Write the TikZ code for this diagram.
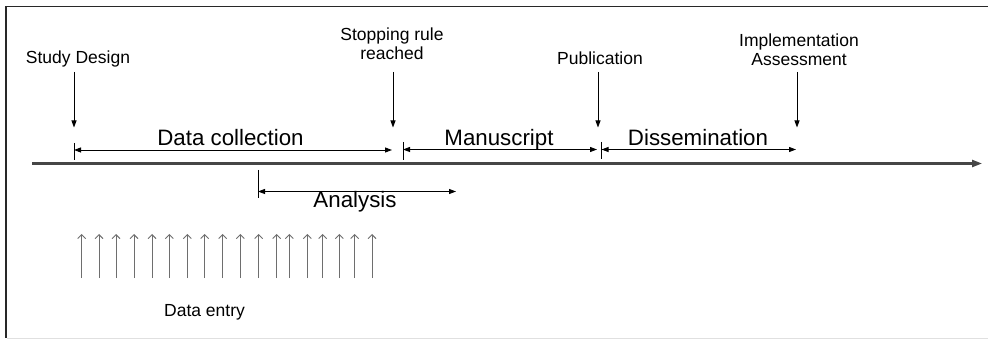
\documentclass[tikz,border=0pt]{standalone}
\usepackage{fontspec}
\setmainfont{Liberation Sans}
\usetikzlibrary{arrows.meta, positioning}
\definecolor{axisgray}{RGB}{70,70,70}
\definecolor{entrygray}{RGB}{110,110,110}
\definecolor{framegray}{RGB}{40,40,40}

\begin{document}
\begin{tikzpicture}[x=1pt, y=-1pt,
  event/.style={font=\fontsize{17.5}{18.8}\selectfont, align=center, anchor=base, inner sep=0pt},
  phase/.style={font=\fontsize{22.3}{24}\selectfont, anchor=base, inner sep=0pt},
  pointer/.style={-{Triangle[length=7pt,width=5pt]}, line width=0.9pt},
  span/.style={{Triangle[length=7pt,width=5pt]}-{Triangle[length=7pt,width=5pt]}, line width=0.9pt},
  tickmark/.style={line width=0.9pt},
  entry/.style={-{Straight Barb[length=4pt,width=8pt]}, entrygray, line width=0.9pt}]
  \useasboundingbox (0,0) rectangle (988,339);
  % frame
  \draw[framegray, line width=1.8pt] (988,6.5) -- (6,6.5) -- (6,338);
  \draw[black!12, line width=0.8pt] (7,338) -- (988,338);

  % time axis
  \coordinate (start) at (32,163.5);
  \coordinate (end) at (982,163.5);
  \draw[axisgray, line width=2.2pt, -{Triangle[length=10pt,width=7pt]}] (start) -- (end);

  % events
  \node[event] (design) at (78,63.5) {Study Design};
  \node[event] (stop) at (392,59.5) {Stopping rule\\reached};
  \node[event] (pub) at (600,64.5) {Publication};
  \node[event] (impl) at (799,65.5) {Implementation\\Assessment};
  \foreach \name/\x in {design/74, stop/393, pub/598, impl/797} {
    \coordinate (\name top) at (\x,72);
    \coordinate (\name tip) at (\x,127.5);
    \draw[pointer] (\name top) -- (\name tip);
  }

  % phases
  \node[phase] (collect) at (230.5,145.7) {Data collection};
  \node[phase] (manu) at (499,145.8) {Manuscript};
  \node[phase] (dissem) at (698,145.5) {Dissemination};
  \node[phase] (analysis) at (355,208) {Analysis};
  \foreach \name/\a/\b/\y/\ta/\tb in {collect/74/392/150/143/160, manu/403/597/149.5/142/160,
      dissem/601.5/796/149.5/142/159, analysis/258/456/191.5/170/198} {
    \coordinate (\name L) at (\a,\y);
    \coordinate (\name R) at (\b,\y);
    \coordinate (\name T) at (\a,\ta);
    \coordinate (\name B) at (\a,\tb);
    \draw[tickmark] (\name T) -- (\name B);
    \draw[span] (\name L) -- (\name R);
  }

  % data entry
  \foreach \x [count=\i] in {81.7,99,116,134,152,169.3,187.3,204.7,222.7,240.3,258.7,276.7,289.3,307.3,322.7,339.3,354.7,372} {
    \coordinate (e\i b) at (\x,278);
    \coordinate (e\i t) at (\x,234);
    \draw[entry] (e\i b) -- (e\i t);
  }
  \node[event] (entrylbl) at (204.5,316.7) {Data entry};
\end{tikzpicture}
\end{document}
